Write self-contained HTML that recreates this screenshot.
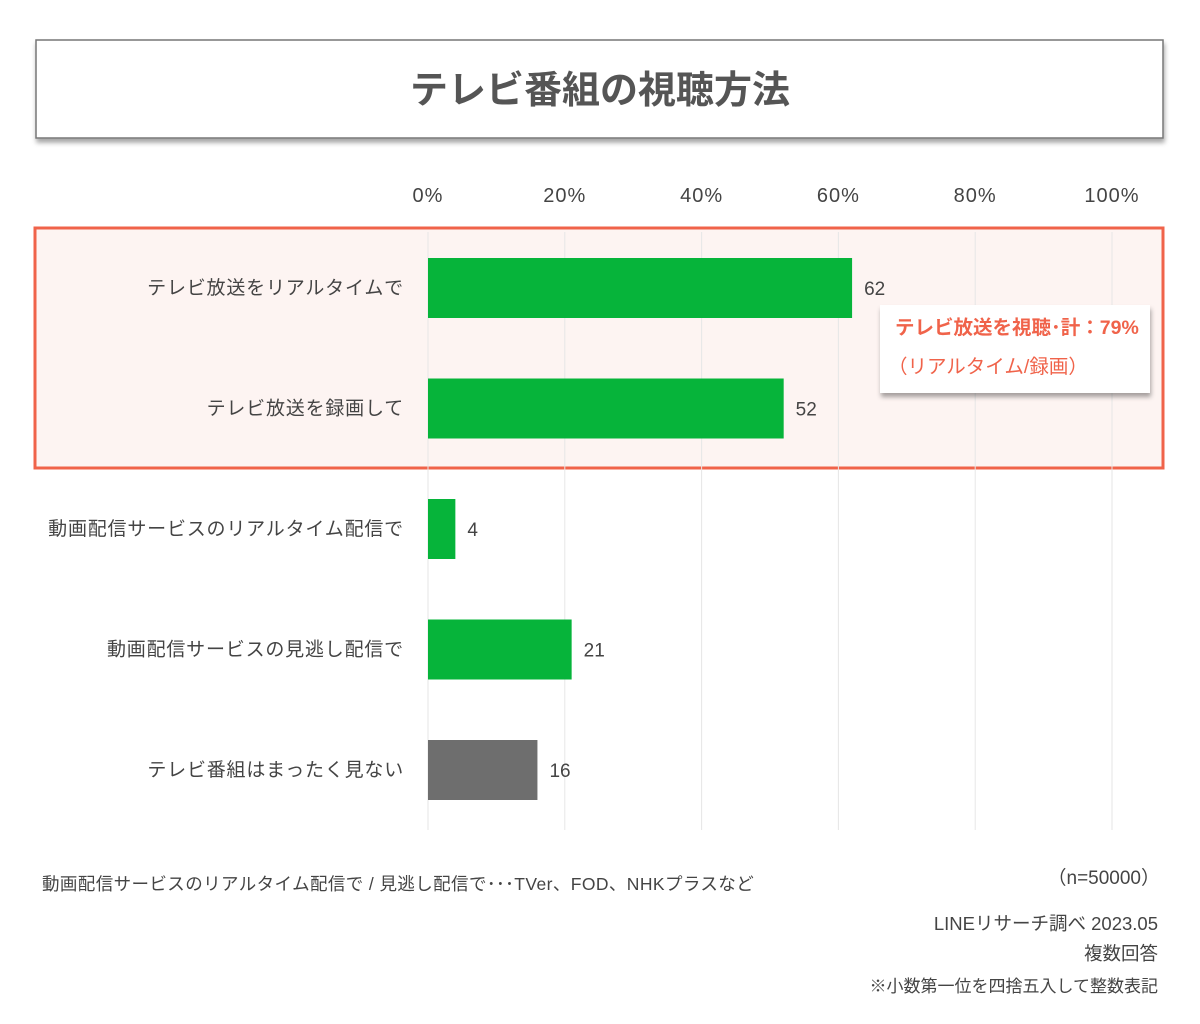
<!DOCTYPE html>
<html><head><meta charset="utf-8">
<style>
html,body{margin:0;padding:0;background:#fff;}
body{width:1200px;height:1019px;position:relative;overflow:hidden;font-family:"Liberation Sans","Noto Sans CJK JP",sans-serif;}
svg text{font-family:"Liberation Sans","Noto Sans CJK JP",sans-serif;}
</style></head>
<body>
<svg id="chart" width="1200" height="1019" viewBox="0 0 1200 1019" xmlns="http://www.w3.org/2000/svg">
<defs>
<filter id="sh" x="-5%" y="-20%" width="110%" height="150%"><feDropShadow dx="1" dy="4" stdDeviation="2.5" flood-color="#000" flood-opacity="0.35"/></filter>
</defs>
<rect x="36" y="40" width="1127" height="98" fill="#fff" stroke="#777" stroke-width="1.5" filter="url(#sh)"/>
<text x="600" y="103" text-anchor="middle" font-size="38" font-weight="bold" fill="#555">テレビ番組の視聴方法</text>
<rect x="35" y="228" width="1128" height="240" fill="#fdf4f2" stroke="#f0634a" stroke-width="3"/>
<g id="grid"></g>
<g id="ticks"></g>
<g id="bars"></g>
<g>
<rect x="880" y="305" width="270" height="88" fill="#fff" filter="url(#sh)"/>
<text x="895" y="334" font-size="19.5" font-weight="bold" fill="#f0634a">テレビ放送を視聴･計：79%</text>
<text x="888" y="373" font-size="19.5" fill="#f0634a">（リアルタイム/録画）</text>
</g>
<text x="42" y="890" font-size="17.5" letter-spacing="0.4" fill="#444">動画配信サービスのリアルタイム配信で / 見逃し配信で･･･TVer、FOD、NHKプラスなど</text>
<text x="1160" y="884" text-anchor="end" font-size="19" fill="#444">（n=50000）</text>
<text x="1158" y="930" text-anchor="end" font-size="18.5" fill="#444">LINEリサーチ調べ 2023.05</text>
<text x="1158" y="960" text-anchor="end" font-size="18.5" fill="#444">複数回答</text>
<text x="1158" y="992" text-anchor="end" font-size="17" fill="#444">※小数第一位を四捨五入して整数表記</text>
</svg>
<script>
const categories=["テレビ放送をリアルタイムで","テレビ放送を録画して","動画配信サービスのリアルタイム配信で","動画配信サービスの見逃し配信で","テレビ番組はまったく見ない"];
const values=[62,52,4,21,16];
const barColors=["#06b43a","#06b43a","#06b43a","#06b43a","#6e6e6e"];
const tickValues=[0,20,40,60,80,100];
const tickLabels=["0%","20%","40%","60%","80%","100%"];
const NS="http://www.w3.org/2000/svg";
const x0=428,x1=1112;
const xs=v=>x0+(x1-x0)*v/100;
const ys=i=>258+i*120.5;
function mk(t,a,p){const e=document.createElementNS(NS,t);for(const k in a)e.setAttribute(k,a[k]);p.appendChild(e);return e;}
const grid=document.getElementById('grid'),ticks=document.getElementById('ticks'),bars=document.getElementById('bars');
tickValues.forEach((v,i)=>{
 const l=mk('line',{x1:xs(v),x2:xs(v),y1:232,y2:830,stroke:'#e6e6e6','stroke-width':1},grid);
 
 
 const t=mk('text',{x:xs(v),y:202,'text-anchor':'middle','font-size':20,'letter-spacing':1,fill:'#444'},ticks);
 t.textContent=tickLabels[i];
 
 
});
categories.forEach((c,i)=>{
 const y=ys(i);
 const r=mk('rect',{x:x0,y:y,width:xs(values[i])-x0,height:60,fill:barColors[i]},bars);
 
 
 const lb=mk('text',{x:404,y:y+36,'text-anchor':'end','font-size':19,'letter-spacing':0.8,fill:'#444'},bars);
 lb.textContent=c;
 
 
 const vl=mk('text',{x:xs(values[i])+12,y:y+37,'font-size':19,fill:'#444'},bars);
 vl.textContent=values[i];
 
 
});
</script>
</body></html>
